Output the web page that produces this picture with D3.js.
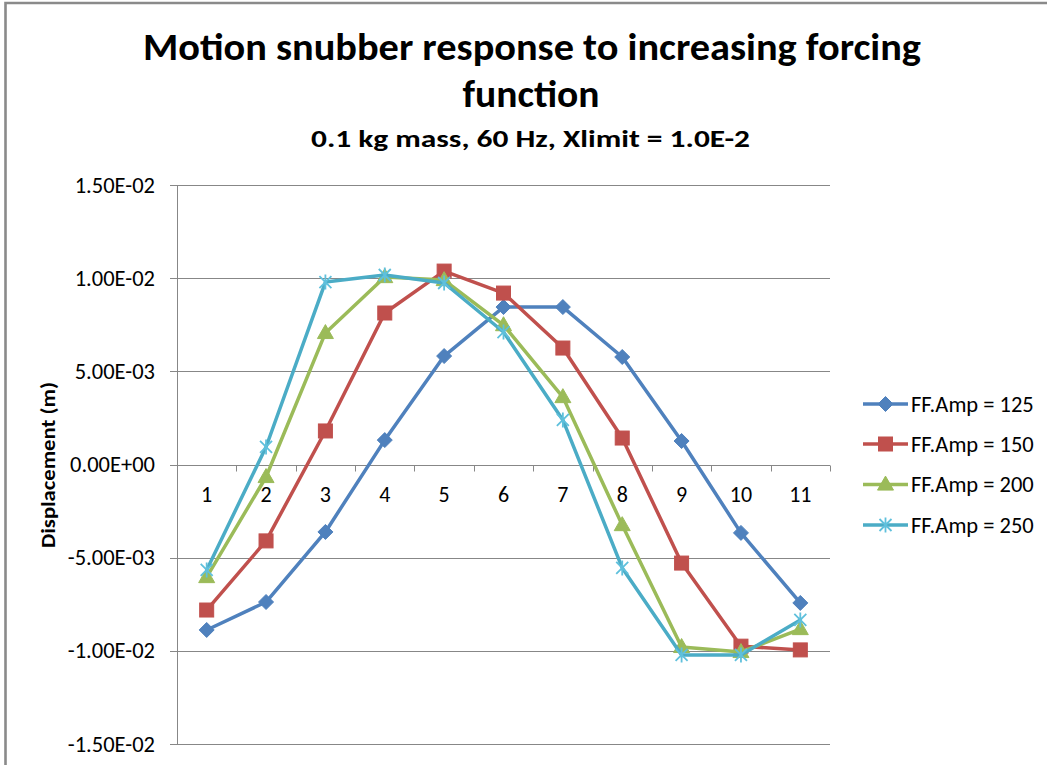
<!DOCTYPE html>
<html>
<head>
<meta charset="utf-8">
<script src="https://cdn.jsdelivr.net/npm/d3@7"></script>
<style>
  html, body { margin: 0; padding: 0; background: #fff; }
  svg { display: block; }
  text { font-family: Carlito, Lato, "Open Sans", sans-serif; fill: #000; }
</style>
</head>
<body>
<svg id="chart" width="1047" height="765"></svg>
<script>
// ---- data ----
const categories = ["1","2","3","4","5","6","7","8","9","10","11"];
const seriesNames = ["FF.Amp = 125", "FF.Amp = 150", "FF.Amp = 200", "FF.Amp = 250"];
const amp125 = [-8.88e-3, -7.38e-3, -3.62e-3, 1.31e-3, 5.82e-3, 8.45e-3, 8.45e-3, 5.77e-3, 1.26e-3, -3.67e-3, -7.43e-3];
const amp150 = [-7.81e-3, -4.10e-3, 1.80e-3, 8.13e-3, 10.38e-3, 9.20e-3, 6.25e-3, 1.42e-3, -5.29e-3, -9.75e-3, -9.95e-3];
const amp200 = [-6.04e-3, -0.67e-3, 7.06e-3, 10.06e-3, 9.90e-3, 7.48e-3, 3.62e-3, -3.25e-3, -9.79e-3, -10.06e-3, -8.83e-3];
const amp250 = [-5.66e-3, 0.94e-3, 9.79e-3, 10.17e-3, 9.74e-3, 7.11e-3, 2.39e-3, -5.55e-3, -10.22e-3, -10.22e-3, -8.34e-3];
const yTicks = [0.015, 0.01, 0.005, 0, -0.005, -0.01, -0.015];
const yTickLabels = ["1.50E-02", "1.00E-02", "5.00E-03", "0.00E+00", "-5.00E-03", "-1.00E-02", "-1.50E-02"];
const titleLines = ["Motion snubber response to increasing forcing", "function"];
const subtitle = "0.1 kg mass, 60 Hz, Xlimit = 1.0E-2";
const yTitle = "Displacement (m)";

// ---- styling ----
const colors = ["#4F81BD", "#C0504D", "#9BBB59", "#4BACC6"];
const markerKinds = ["diamond", "square", "triangle", "asterisk"];
const seriesValues = [amp125, amp150, amp200, amp250];

const svg = d3.select("#chart");
const plot = { left: 177, right: 830, top: 185, bottom: 744 };

const x = d3.scaleBand().domain(categories).range([plot.left, plot.right]);
const y = d3.scaleLinear().domain([-0.015, 0.015]).range([plot.bottom, plot.top]);

// frame
svg.append("path").attr("d", "M5.5,780 V3 H1060")
  .attr("fill", "none").attr("stroke", "#8a8a8a").attr("stroke-width", 2.6);

// titles
svg.append("text").attr("x", 532).attr("y", 60).attr("text-anchor", "middle")
  .attr("font-size", 38).attr("font-weight", "bold")
  .attr("textLength", 778).attr("lengthAdjust", "spacingAndGlyphs")
  .text(titleLines[0]);
svg.append("text").attr("x", 531).attr("y", 107).attr("text-anchor", "middle")
  .attr("font-size", 38).attr("font-weight", "bold")
  .attr("textLength", 137).attr("lengthAdjust", "spacingAndGlyphs")
  .text(titleLines[1]);
svg.append("text").attr("x", 530.5).attr("y", 147).attr("text-anchor", "middle")
  .attr("font-size", 23.5).attr("font-weight", "bold")
  .attr("textLength", 439).attr("lengthAdjust", "spacingAndGlyphs")
  .text(subtitle);

// gridlines + y ticks
const grid = svg.append("g");
yTicks.forEach((t, i) => {
  const yy = Math.round(y(t)) + 0.5;
  grid.append("line").attr("x1", 170).attr("x2", plot.right).attr("y1", yy).attr("y2", yy)
    .attr("stroke", "#878787").attr("stroke-width", 1);
  grid.append("text").attr("x", 155).attr("y", y(t) + 7.5).attr("text-anchor", "end")
    .attr("font-size", 22.5).attr("fill", "#000")
    .text(yTickLabels[i]);
});
// y axis line
svg.append("line").attr("x1", plot.left + 0.5).attr("x2", plot.left + 0.5)
  .attr("y1", plot.top).attr("y2", plot.bottom).attr("stroke", "#878787").attr("stroke-width", 1);

// x axis ticks at category boundaries (axis crosses at 0)
const y0 = Math.round(y(0)) + 0.5;
const bounds = categories.map(c => x(c)).concat([plot.right]);
bounds.forEach(b => {
  svg.append("line").attr("x1", Math.round(b) + 0.5).attr("x2", Math.round(b) + 0.5)
    .attr("y1", y0).attr("y2", y0 + 6).attr("stroke", "#878787").attr("stroke-width", 1);
});
categories.forEach(c => {
  svg.append("text").attr("x", x(c) + x.bandwidth() / 2).attr("y", 502)
    .attr("text-anchor", "middle").attr("font-size", 22).text(c);
});

// y axis title
svg.append("text").attr("transform", "translate(55,465) rotate(-90)")
  .attr("text-anchor", "middle").attr("font-size", 20).attr("font-weight", "bold")
  .attr("textLength", 166).attr("lengthAdjust", "spacingAndGlyphs")
  .text(yTitle);

// marker drawing
function drawMarker(g, kind, cx, cy, color) {
  if (kind === "diamond") {
    const r = 7.5;
    g.append("path").attr("d", `M${cx},${cy - r}L${cx + r},${cy}L${cx},${cy + r}L${cx - r},${cy}Z`)
      .attr("fill", color).attr("stroke", color).attr("stroke-width", 1);
  } else if (kind === "square") {
    const h = 7;
    g.append("rect").attr("x", cx - h).attr("y", cy - h).attr("width", 2 * h).attr("height", 2 * h)
      .attr("fill", color).attr("stroke", color).attr("stroke-width", 1);
  } else if (kind === "triangle") {
    const w = 8, ht = 14;
    g.append("path").attr("d", `M${cx},${cy - ht * 0.6}L${cx + w},${cy + ht * 0.4}L${cx - w},${cy + ht * 0.4}Z`)
      .attr("fill", color).attr("stroke", color).attr("stroke-width", 1);
  } else if (kind === "asterisk") {
    const r = 7.5, d = 6;
    g.append("path").attr("d",
      `M${cx},${cy - r}L${cx},${cy + r}M${cx - d},${cy - d}L${cx + d},${cy + d}M${cx - d},${cy + d}L${cx + d},${cy - d}`)
      .attr("fill", "none").attr("stroke", "#5fc0dc").attr("stroke-width", 1.8);
  }
}

// series
const line = d3.line().x((d, i) => x(categories[i]) + x.bandwidth() / 2).y(d => y(d));
seriesValues.forEach((vals, s) => {
  const g = svg.append("g");
  g.append("path").datum(vals).attr("d", line)
    .attr("fill", "none").attr("stroke", colors[s]).attr("stroke-width", 3.5)
    .attr("stroke-linejoin", "round").attr("stroke-linecap", "round");
  vals.forEach((v, i) => drawMarker(g, markerKinds[s], x(categories[i]) + x.bandwidth() / 2, y(v), colors[s]));
});

// legend
const legendRows = [404, 444, 484.5, 525];
seriesNames.forEach((name, s) => {
  const g = svg.append("g");
  const ly = legendRows[s];
  g.append("line").attr("x1", 863).attr("x2", 908).attr("y1", ly).attr("y2", ly)
    .attr("stroke", colors[s]).attr("stroke-width", 3.5);
  drawMarker(g, markerKinds[s], 885.5, ly, colors[s]);
  g.append("text").attr("x", 911).attr("y", ly + 7.5).attr("font-size", 22.5).text(name);
});
</script>
</body>
</html>
